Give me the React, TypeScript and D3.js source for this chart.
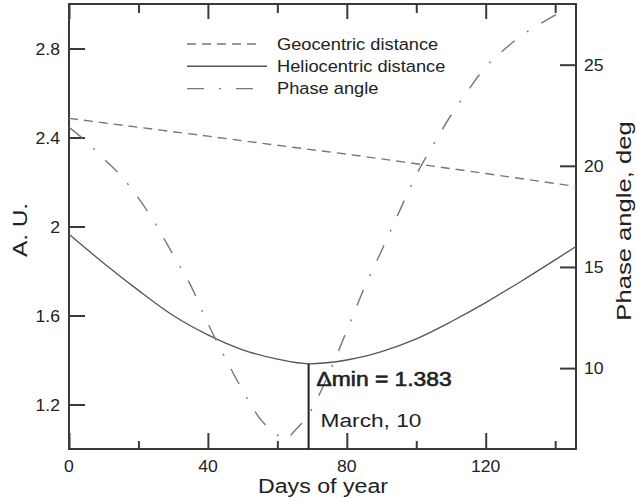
import React, { useRef, useEffect } from 'react'
import * as d3 from 'd3'

// geocentric distance, A.U.
const geoDays = [0, 20, 40, 60, 80, 100, 120, 146]
const geoValues = [2.486, 2.446, 2.406, 2.365, 2.325, 2.282, 2.238, 2.18]

// heliocentric distance, A.U.
const helioDays = [0, 10, 20, 30, 40, 50, 60, 69, 80, 90, 100, 110, 120, 130, 140, 146]
const helioValues = [1.965, 1.835, 1.713, 1.6, 1.513, 1.446, 1.404, 1.383, 1.4, 1.438, 1.495, 1.572, 1.658, 1.752, 1.85, 1.91]

// phase angle, deg
const phaseDays = [0, 5, 10, 15, 20, 25, 30, 35, 40, 45, 50, 55, 60, 62, 65, 70, 75, 80, 85, 90, 95, 100, 105, 110, 115, 120, 125, 130, 135, 141]
const phaseValues = [21.9, 21.2, 20.35, 19.5, 18.4, 17.1, 15.6, 14.1, 12.2, 10.5, 8.9, 7.5, 6.7, 6.45, 6.9, 8.0, 9.8, 11.85, 13.95, 15.8, 17.7, 19.55, 21.07, 22.5, 23.75, 24.9, 25.7, 26.4, 26.95, 27.55]

const dayTicks = [0, 40, 80, 120]
const dayMinorTicks = [20, 60, 100, 140]
const auTicks = [1.2, 1.6, 2, 2.4, 2.8]
const phaseTicks = [10, 15, 20, 25]

const minDay = 69
const minValue = 1.383

const legendItems = [
    { label: 'Geocentric distance', dash: '9,6', color: '#777' },
    { label: 'Heliocentric distance', dash: null, color: '#555' },
    { label: 'Phase angle', dash: '17,15,2,15', color: '#777' }
]

const margin = { left: 69, right: 60, top: 4, bottom: 52 }
const W = 636, H = 501
const w = W - margin.left - margin.right
const h = H - margin.top - margin.bottom

const SX = 1.15
const textColor = '#222'

// text slightly stretched sideways, as in the scan
const Label = ({ x, y, size, anchor = 'start', rotate = 0, sx = SX, heavy = false, children }: any) => (
    <g transform={`translate(${x},${y}) rotate(${rotate}) scale(${sx},1)`}>
        <text textAnchor={anchor} fontSize={size} fill={textColor}
            stroke={heavy ? textColor : 'none'} strokeWidth={heavy ? 0.6 : 0}
            fontFamily='"Liberation Sans", Arial, sans-serif'>{children}</text>
    </g>
)

const App = () => {
    const svgRef = useRef<SVGSVGElement>(null)

    const xScale = d3.scaleLinear().domain([0, 146]).range([0, w])
    const yLeft = d3.scaleLinear().domain([1.0, 3.0]).range([h, 0])
    const yRight = d3.scaleLinear().domain([6, 28]).range([h, 0])

    useEffect(() => {
        const svg = d3.select(svgRef.current)
        const g = svg.select('.plot')
        g.selectAll('*').remove()

        const axisColor = '#3a3a3a'

        //bottom axis, inward ticks
        const bottom = g.append('g').attr('transform', `translate(0,${h})`)
        bottom.call(d3.axisTop(xScale).tickValues(dayTicks).tickSize(16).tickFormat(() => '').tickSizeOuter(0))
        bottom.append('g').call(d3.axisTop(xScale).tickValues(dayMinorTicks).tickSize(8).tickFormat(() => '').tickSizeOuter(0))

        //top axis mirrored
        const top = g.append('g')
        top.call(d3.axisBottom(xScale).tickValues(dayTicks).tickSize(15).tickFormat(() => '').tickSizeOuter(0))
        top.append('g').call(d3.axisBottom(xScale).tickValues(dayMinorTicks).tickSize(9).tickFormat(() => '').tickSizeOuter(0))

        //left axis
        g.append('g').call(d3.axisRight(yLeft).tickValues(auTicks).tickSize(16).tickFormat(() => '').tickSizeOuter(0))

        //right axis
        g.append('g').attr('transform', `translate(${w},0)`)
            .call(d3.axisLeft(yRight).tickValues(phaseTicks).tickSize(16).tickFormat(() => '').tickSizeOuter(0))

        g.selectAll('.domain').remove()
        g.selectAll('.tick line').attr('stroke', axisColor).attr('stroke-width', 2)

        //frame
        g.append('rect')
            .attr('x', 0).attr('y', 0).attr('width', w).attr('height', h)
            .attr('fill', 'none').attr('stroke', axisColor).attr('stroke-width', 2)

        const lineLeft = d3.line<number>()
            .x((d, i) => xScale(d))
            .curve(d3.curveMonotoneX)

        g.append('path')
            .attr('d', lineLeft.y((d, i) => yLeft(geoValues[i]))(geoDays))
            .attr('fill', 'none').attr('stroke', '#777').attr('stroke-width', 1.4)
            .attr('stroke-dasharray', '9,6')

        g.append('path')
            .attr('d', lineLeft.y((d, i) => yLeft(helioValues[i]))(helioDays))
            .attr('fill', 'none').attr('stroke', '#555').attr('stroke-width', 1.3)

        const linePhase = d3.line<number>()
            .x(d => xScale(d))
            .y((d, i) => yRight(phaseValues[i]))
            .curve(d3.curveMonotoneX)

        g.append('path')
            .attr('d', linePhase(phaseDays))
            .attr('fill', 'none').attr('stroke', '#777').attr('stroke-width', 1.4)
            .attr('stroke-dasharray', '17,15,2,15')

        //minimum marker
        g.append('line')
            .attr('x1', xScale(minDay)).attr('x2', xScale(minDay))
            .attr('y1', h).attr('y2', yLeft(minValue))
            .attr('stroke', '#222').attr('stroke-width', 2)

        //legend
        legendItems.forEach((item, i) => {
            const ly = 40 + i * 22.3
            g.append('line')
                .attr('x1', 118).attr('x2', i === 1 ? 198 : 193)
                .attr('y1', ly).attr('y2', ly)
                .attr('stroke', item.color).attr('stroke-width', 1.4)
                .attr('stroke-dasharray', item.dash)
        })
    }, [])

    return (
        <svg ref={svgRef} width={W} height={H}
            style={{ position: 'absolute', left: 0, top: 0, background: '#fff' }}>
            <g className='plot' transform={`translate(${margin.left},${margin.top})`}></g>

            {auTicks.map(t => (
                <Label key={'l' + t} x={60} y={margin.top + yLeft(t) + 6} size={16} anchor='end' sx={1.1}>{d3.format('')(t)}</Label>
            ))}
            {dayTicks.map(t => (
                <Label key={'b' + t} x={margin.left + xScale(t)} y={472} size={16} anchor='middle' sx={1.1}>{t}</Label>
            ))}
            {phaseTicks.map(t => (
                <Label key={'r' + t} x={584} y={margin.top + yRight(t) + 6} size={16} sx={1.1}>{t}</Label>
            ))}

            {legendItems.map((item, i) => (
                <Label key={item.label} x={277} y={50 + i * 22} size={16.3} sx={1.12}>{item.label}</Label>
            ))}

            <Label x={margin.left + xScale(minDay) + 8} y={386} size={19.5} heavy sx={1.17}>{'\u0394min = 1.383'}</Label>
            <Label x={margin.left + xScale(minDay) + 12} y={427} size={18.6} sx={1.22}>March, 10</Label>

            <Label x={323} y={493} size={19.5} anchor='middle' sx={1.19}>Days of year</Label>
            <Label x={27} y={230} size={21} anchor='middle' rotate={-90} sx={1.16}>A. U.</Label>
            <Label x={631} y={221} size={21} anchor='middle' rotate={-90} sx={1.22}>Phase angle, deg</Label>
        </svg>
    )
}

export default App
